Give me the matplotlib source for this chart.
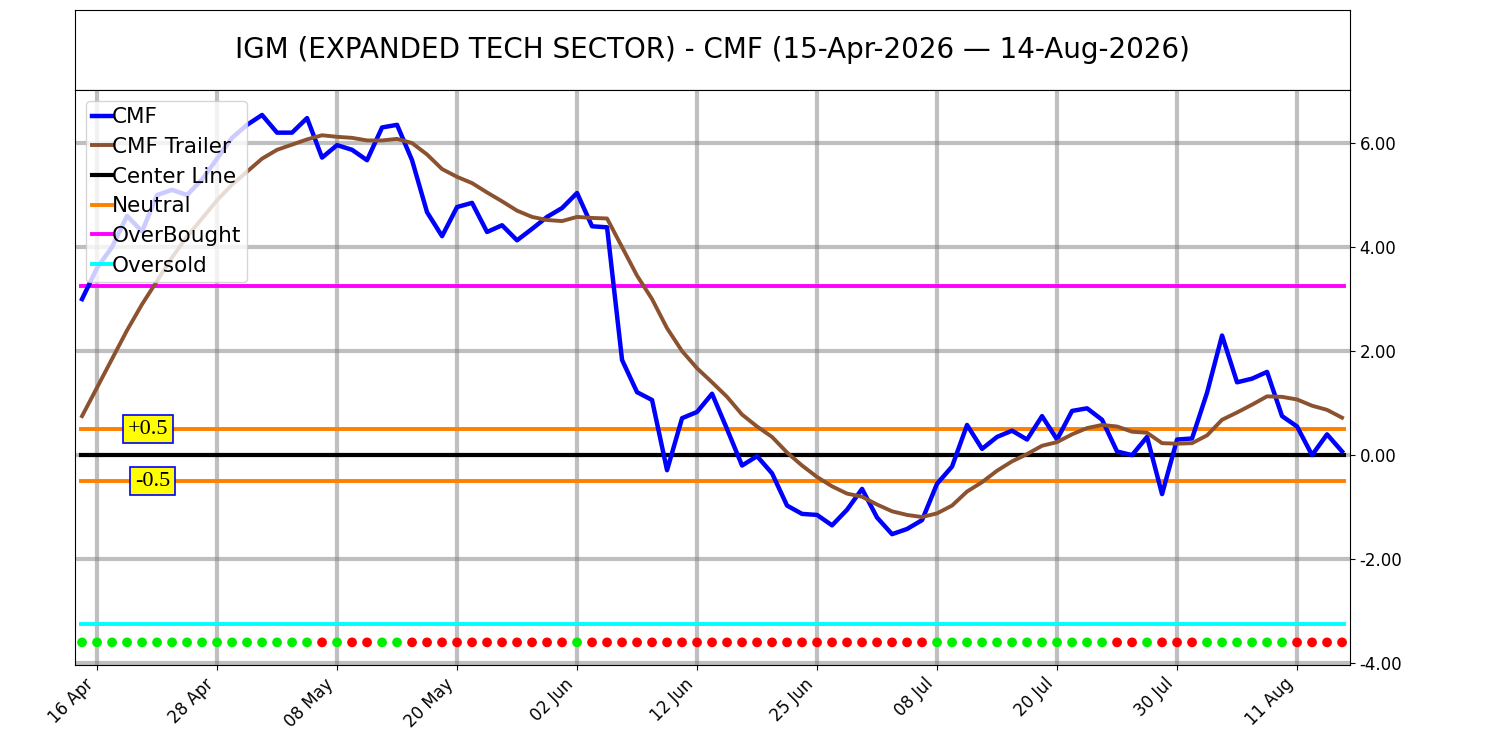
import matplotlib
matplotlib.use("Agg")
import matplotlib.pyplot as plt
import numpy as np

cmf = [3.0, 3.6, 4.0, 4.6, 4.3, 5.0, 5.1, 5.0, 5.3, 5.7, 6.1, 6.35, 6.54, 6.2, 6.2, 6.48,
       5.72, 5.96, 5.87, 5.67, 6.3, 6.35, 5.67, 4.67, 4.21, 4.77, 4.85, 4.29, 4.42, 4.13,
       4.35, 4.58, 4.75, 5.04, 4.4, 4.38, 1.83, 1.21, 1.06, -0.29, 0.71, 0.83, 1.18, 0.5,
       -0.2, -0.02, -0.35, -0.97, -1.13, -1.15, -1.35, -1.05, -0.65, -1.2, -1.52, -1.42,
       -1.25, -0.55, -0.22, 0.58, 0.12, 0.35, 0.47, 0.3, 0.75, 0.3, 0.85, 0.9, 0.68, 0.07,
       0.0, 0.35, -0.75, 0.3, 0.32, 1.2, 2.3, 1.4, 1.47, 1.6, 0.75, 0.55, 0.0, 0.4, 0.07]
trailer = [0.75, 1.3, 1.85, 2.4, 2.9, 3.35, 3.8, 4.2, 4.55, 4.9, 5.2, 5.45, 5.7, 5.87, 5.97,
           6.07, 6.15, 6.12, 6.1, 6.05, 6.05, 6.08, 6.0, 5.78, 5.5, 5.35, 5.23, 5.05, 4.88,
           4.7, 4.58, 4.52, 4.5, 4.58, 4.56, 4.55, 4.0, 3.45, 3.0, 2.44, 2.0, 1.67, 1.4, 1.12,
           0.78, 0.55, 0.35, 0.05, -0.2, -0.42, -0.6, -0.74, -0.8, -0.95, -1.08, -1.15, -1.19,
           -1.12, -0.97, -0.7, -0.52, -0.3, -0.12, 0.02, 0.18, 0.25, 0.4, 0.52, 0.58, 0.55,
           0.45, 0.43, 0.23, 0.22, 0.23, 0.38, 0.68, 0.82, 0.97, 1.13, 1.12, 1.07, 0.95, 0.87, 0.72]
signal = ("G" * 16 + "RG" + "RR" + "GG" + "R" * 11 + "G" + "R" * 23 + "G" * 12 +
          "RR" + "G" + "RRR" + "G" * 6 + "RRRR")
tick_idx = [1, 9, 17, 25, 33, 41, 49, 57, 65, 73, 81]
tick_labels = ["16 Apr", "28 Apr", "08 May", "20 May", "02 Jun", "12 Jun", "25 Jun",
               "08 Jul", "20 Jul", "30 Jul", "11 Aug"]
overbought, oversold, neutral = 3.25, -3.25, 0.5

x = np.arange(len(cmf))
fig = plt.figure(figsize=(15, 7.5), dpi=100)
tax = fig.add_axes([0.05, 0.88, 0.85, 0.107])
tax.set_xticks([]); tax.set_yticks([])
tax.text(0.5, 0.5, "IGM (EXPANDED TECH SECTOR) - CMF (15-Apr-2026 — 14-Aug-2026)",
         ha="center", va="center", fontsize=20)
ax = fig.add_axes([0.05, 0.113, 0.85, 0.767])

ax.set_xticks(tick_idx)
ax.set_xticklabels(tick_labels, rotation=45, ha="right", fontsize=12)
ax.set_yticks([-4, -2, 0, 2, 4, 6])
ax.set_yticklabels([f"{v:.2f}" for v in [-4, -2, 0, 2, 4, 6]], fontsize=12)
ax.yaxis.tick_right()
ax.grid(True, color="gray", alpha=0.5, lw=3)
ax.set_axisbelow(True)

ax.plot(x, cmf, color="blue", lw=3.2, label="CMF", zorder=4)
ax.plot(x, trailer, color="#8B5230", lw=2.8, label="CMF Trailer", zorder=4)
ax.axhline(0, xmin=0.005, xmax=0.995, color="black", lw=3, label="Center Line", zorder=3)
ax.axhline(neutral, xmin=0.005, xmax=0.995, color="#FF8000", lw=2.8, label="Neutral", zorder=3)
ax.axhline(-neutral, xmin=0.005, xmax=0.995, color="#FF8000", lw=2.8, zorder=3)
ax.axhline(overbought, xmin=0.005, xmax=0.995, color="magenta", lw=2.8, label="OverBought", zorder=3)
ax.axhline(oversold, xmin=0.005, xmax=0.995, color="cyan", lw=2.8, label="Oversold", zorder=3)
cols = ["#00EE00" if s == "G" else "red" for s in signal]
ax.scatter(x, [-3.6] * len(x), c=cols, s=36, zorder=5)

bb = dict(boxstyle="square,pad=0.2", fc="yellow", ec="blue", lw=1.2)
ax.text(4.4, neutral, "+0.5", fontsize=16, family="Liberation Serif", ha="center",
        va="center", bbox=bb, zorder=6)
ax.text(4.7, -neutral, "-0.5", fontsize=16, family="Liberation Serif", ha="center",
        va="center", bbox=bb, zorder=6)

ax.set_xlim(-0.47, 84.53)
ax.set_ylim(-4.04, 7.02)
ax.legend(loc="upper left", fontsize=15.5, handlelength=0.9, handletextpad=0.0,
          borderpad=0.3, labelspacing=0.45, framealpha=0.8)
fig.savefig("out.png")
